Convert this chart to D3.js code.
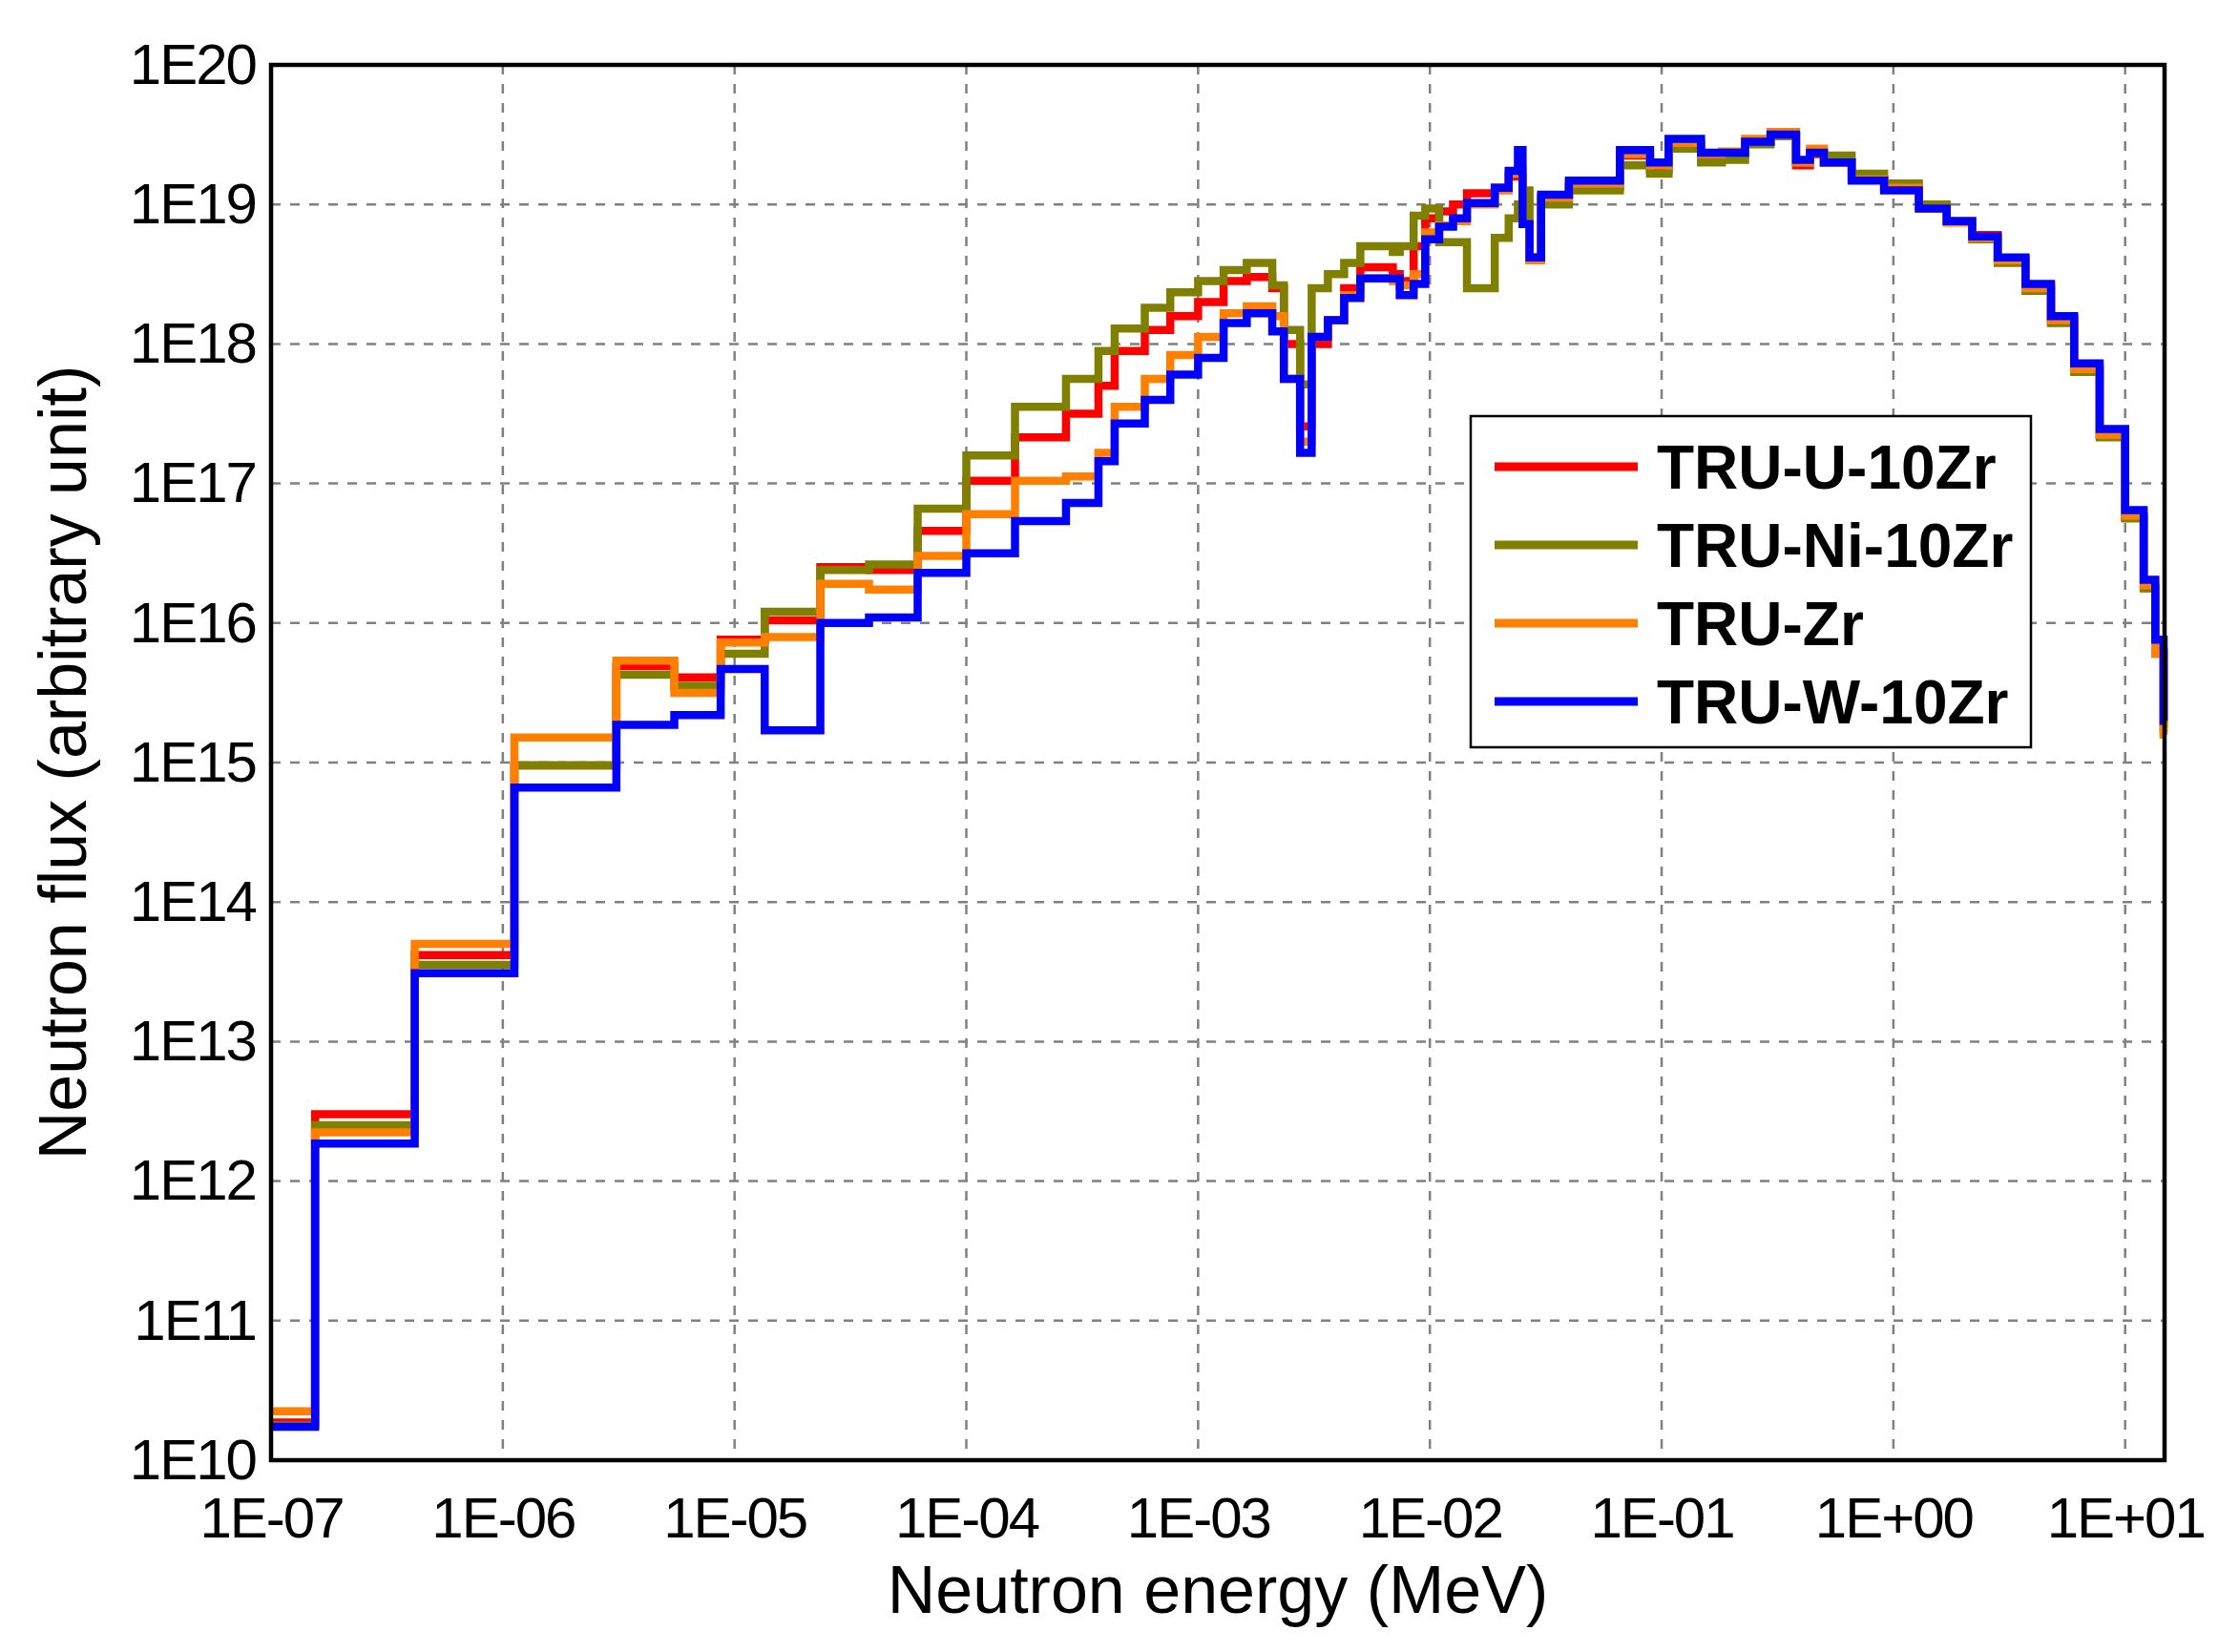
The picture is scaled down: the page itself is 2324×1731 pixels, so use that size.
<!DOCTYPE html>
<html><head><meta charset="utf-8">
<script src="https://cdn.jsdelivr.net/npm/d3@7"></script>
<style>body{margin:0;background:#fff}svg{font-family:"Liberation Sans",Arial,sans-serif}</style>
</head><body><svg id="c" width="2324" height="1731"></svg>
<script>
// Group edges: log10(energy / MeV)
const edgesLog = [-7.00,-6.81,-6.38,-5.95,-5.51,-5.26,-5.06,-4.87,-4.63,-4.42,-4.21,-4.00,-3.79,-3.57,-3.43,-3.36,-3.23,-3.12,-3.00,-2.89,-2.79,-2.68,-2.63,-2.56,-2.51,-2.44,-2.37,-2.30,-2.16,-2.13,-2.07,-2.02,-1.96,-1.90,-1.84,-1.72,-1.66,-1.62,-1.60,-1.57,-1.52,-1.40,-1.18,-1.05,-0.97,-0.83,-0.74,-0.64,-0.53,-0.42,-0.36,-0.30,-0.18,-0.04,0.11,0.23,0.34,0.45,0.57,0.68,0.78,0.89,1.00,1.08,1.13,1.166,1.17];
// Group flux values: log10(flux)
const fluxU = [10.27,12.48,13.62,14.98,15.69,15.61,15.88,16.02,16.40,16.38,16.66,17.02,17.33,17.50,17.70,17.95,18.10,18.20,18.30,18.45,18.48,18.40,18.00,17.41,18.00,18.17,18.40,18.55,18.50,18.45,18.70,18.90,18.95,19.00,19.08,19.12,19.20,19.20,18.86,18.62,19.05,19.13,19.35,19.25,19.42,19.36,19.36,19.45,19.49,19.28,19.36,19.30,19.18,19.12,18.98,18.88,18.78,18.61,18.41,18.18,17.83,17.35,16.76,16.25,15.80,15.25];
const fluxNi = [10.25,12.40,13.55,14.98,15.63,15.55,15.78,16.08,16.38,16.42,16.82,17.20,17.55,17.75,17.95,18.11,18.26,18.37,18.45,18.53,18.58,18.42,18.10,17.71,18.40,18.50,18.58,18.70,18.66,18.70,18.92,18.97,18.73,18.73,18.40,18.76,18.90,19.00,19.10,18.60,19.00,19.10,19.28,19.22,19.40,19.30,19.32,19.43,19.49,19.30,19.38,19.35,19.22,19.15,19.00,18.88,18.75,18.58,18.38,18.15,17.80,17.33,16.75,16.25,15.78,15.22];
const fluxZr = [10.35,12.35,13.70,15.18,15.73,15.50,15.86,15.90,16.28,16.24,16.48,16.78,17.02,17.05,17.22,17.55,17.75,17.92,18.05,18.22,18.27,18.20,17.75,17.30,18.05,18.17,18.35,18.47,18.45,18.42,18.50,18.80,18.85,18.88,19.00,19.10,19.22,19.25,18.86,18.60,19.05,19.15,19.36,19.28,19.44,19.36,19.38,19.47,19.52,19.30,19.40,19.30,19.18,19.12,18.97,18.87,18.76,18.60,18.40,18.17,17.82,17.35,16.77,16.27,15.78,15.20];
const fluxW = [10.24,12.27,13.49,14.82,15.27,15.34,15.67,15.23,16.00,16.04,16.36,16.50,16.73,16.86,17.16,17.43,17.60,17.78,17.90,18.15,18.22,18.09,17.75,17.22,18.05,18.17,18.33,18.47,18.47,18.35,18.43,18.75,18.84,18.90,19.01,19.12,19.24,19.39,18.86,18.62,19.07,19.17,19.39,19.30,19.47,19.37,19.37,19.45,19.50,19.32,19.37,19.30,19.17,19.10,18.97,18.88,18.77,18.62,18.43,18.20,17.86,17.39,16.81,16.31,15.88,15.30];
const seriesNames = ["TRU-U-10Zr","TRU-Ni-10Zr","TRU-Zr","TRU-W-10Zr"];
const seriesColors = ["#ff0000","#808000","#ff8000","#0000ff"];
const xTickLabels = ["1E-07","1E-06","1E-05","1E-04","1E-03","1E-02","1E-01","1E+00","1E+01"];
const yTickLabels = ["1E10","1E11","1E12","1E13","1E14","1E15","1E16","1E17","1E18","1E19","1E20"];

const svg = d3.select("#c");
const L=284,R=2268,T=68,B=1530;
const x = d3.scaleLog().domain([1e-7, Math.pow(10,1.17)]).range([L,R]);
const y = d3.scaleLog().domain([1e10,1e20]).range([B,T]);
const xt = xTickLabels.map(s=>+s), yt = yTickLabels.map(s=>+s.replace("E","e"));

const g = svg.append("g");
g.selectAll(".gx").data(xt.slice(1)).enter().append("line")
 .attr("x1",d=>x(d)).attr("x2",d=>x(d)).attr("y1",T).attr("y2",B)
 .attr("stroke","#808080").attr("stroke-width",2.5).attr("stroke-dasharray","10,10");
g.selectAll(".gy").data(yt.slice(1,-1)).enter().append("line")
 .attr("y1",d=>y(d)).attr("y2",d=>y(d)).attr("x1",L).attr("x2",R)
 .attr("stroke","#808080").attr("stroke-width",2.5).attr("stroke-dasharray","10,10");

const ax = svg.append("g").attr("transform",`translate(0,${B})`)
 .call(d3.axisBottom(x).tickValues(xt).tickFormat((d,i)=>xTickLabels[i]).tickSize(0).tickPadding(38));
const ay = svg.append("g").attr("transform",`translate(${L},0)`)
 .call(d3.axisLeft(y).tickValues(yt).tickFormat((d,i)=>yTickLabels[i]).tickSize(0).tickPadding(16));
[ax,ay].forEach(a=>{a.select(".domain").remove();a.selectAll("text").attr("font-size",60).attr("fill","#000").attr("font-family","Liberation Sans, Arial").attr("letter-spacing","-2");});
ax.selectAll("text").attr("dy","0.71em");

const allSeries=[fluxU,fluxNi,fluxZr,fluxW];
allSeries.forEach((vals,k)=>{
  const pts=[];
  vals.forEach((v,i)=>{pts.push([Math.pow(10,edgesLog[i]),Math.pow(10,v)]);});
  pts.push([Math.pow(10,edgesLog[edgesLog.length-1]),Math.pow(10,vals[vals.length-1])]);
  const line=d3.line().x(d=>x(d[0])).y(d=>y(d[1])).curve(d3.curveStepAfter);
  svg.append("path").attr("d",line(pts)).attr("fill","none")
   .attr("stroke",seriesColors[k]).attr("stroke-width",8.5).attr("stroke-linejoin","miter");
});
svg.append("rect").attr("x",L).attr("y",T).attr("width",R-L).attr("height",B-T)
 .attr("fill","none").attr("stroke","#000").attr("stroke-width",4.5);

const lg=svg.append("g");
lg.append("rect").attr("x",1541).attr("y",436).attr("width",587).attr("height",347)
 .attr("fill","#fff").attr("stroke","#000").attr("stroke-width",2.5);
seriesNames.forEach((n,i)=>{
  const yy=489+i*82;
  lg.append("line").attr("x1",1566).attr("x2",1716).attr("y1",yy).attr("y2",yy)
   .attr("stroke",seriesColors[i]).attr("stroke-width",9);
  lg.append("text").attr("x",1736).attr("y",yy).attr("dy","0.36em").attr("font-size",64)
   .attr("font-weight","bold").text(n);
});

svg.append("text").attr("x",(L+R)/2).attr("y",1690).attr("text-anchor","middle")
 .attr("font-size",70).text("Neutron energy (MeV)");
svg.append("text").attr("transform",`translate(90,${(T+B)/2}) rotate(-90)`).attr("text-anchor","middle")
 .attr("font-size",70).text("Neutron flux (arbitrary unit)");
</script></body></html>
